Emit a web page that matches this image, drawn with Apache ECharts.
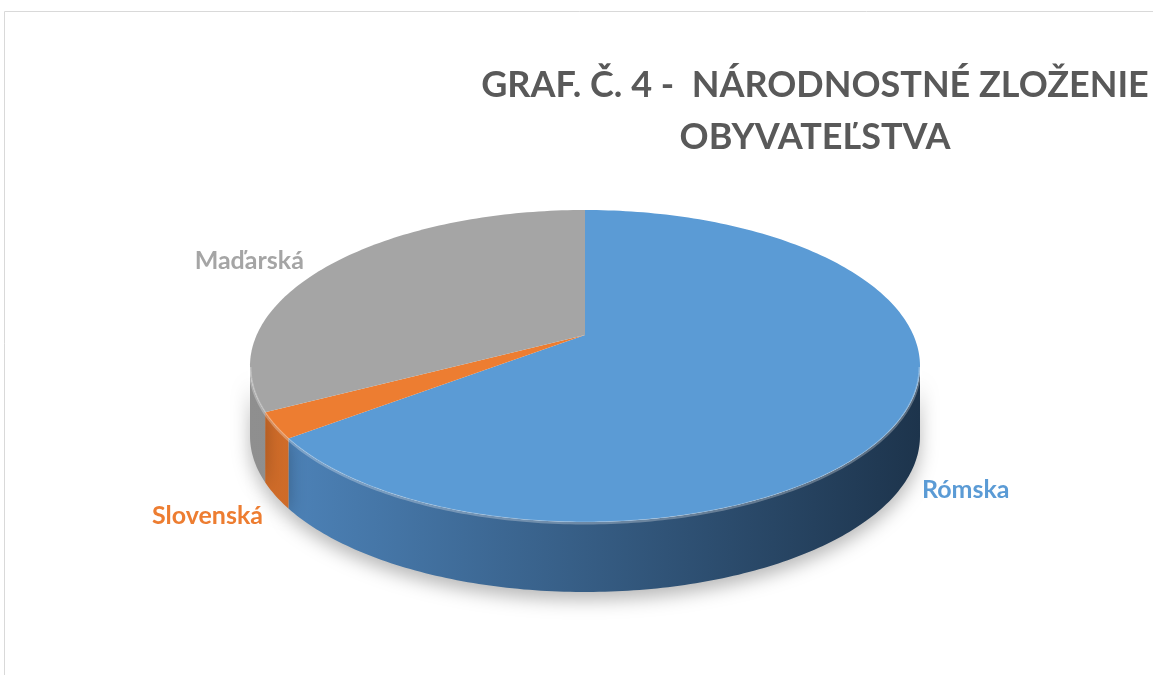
<!DOCTYPE html>
<html>
<head>
<meta charset="utf-8">
<script src="https://cdn.jsdelivr.net/npm/echarts@6/dist/echarts.min.js"></script>
<style>
html,body{margin:0;padding:0;background:#fff;}
#chart{width:1153px;height:675px;}
</style>
</head>
<body>
<div id="chart"></div>
<script>
// ---- data ----
const CATEGORIES = ['Rómska', 'Slovenská', 'Maďarská'];
const VALUES = [67.3, 2.9, 29.8];
const TITLE_LINES = ['GRAF. Č. 4 -  NÁRODNOSTNÉ ZLOŽENIE', 'OBYVATEĽSTVA'];

// ---- style ----
const TOP_COLORS = ['#5B9BD5', '#ED7D31', '#A5A5A5'];
const SIDE_COLORS = [['#4f86bd', '#1d344c'], ['#d06c29', '#b35b22'], ['#8f8f8f', '#7a7a7a']];
const LABEL_SHIFT = [[94, 43], [-68, 90], [-66, -13]];
const GEOM = { cx: 585, cy: 366, rx: 335, ry: 156, apexDy: -31, depth: 70 };

const chart = echarts.init(document.getElementById('chart'));

function rim(t, dz) {
  return [GEOM.cx + GEOM.rx * Math.sin(t), GEOM.cy - GEOM.ry * Math.cos(t) + (dz || 0)];
}
function arcPts(a, b, dz) {
  const pts = [];
  const n = Math.max(2, Math.ceil(Math.abs(b - a) / (Math.PI / 180)));
  for (let k = 0; k <= n; k++) pts.push(rim(a + (b - a) * k / n, dz));
  return pts;
}
const total = VALUES.reduce((s, v) => s + v, 0);

function renderItem(params, api) {
  const i = params.dataIndex;
  let before = 0;
  for (let k = 0; k < i; k++) before += VALUES[k];
  const val = api.value(0);
  const a = before / total * Math.PI * 2;
  const b = (before + val) / total * Math.PI * 2;
  const children = [];
  // side wall (front half only)
  const s = Math.max(a, Math.PI / 2), e = Math.min(b, Math.PI * 1.5);
  if (e > s) {
    const pts = arcPts(s, e, 0).concat(arcPts(e, s, GEOM.depth));
    children.push({
      type: 'polygon', shape: { points: pts }, z2: 1,
      style: {
        fill: new echarts.graphic.LinearGradient(GEOM.cx - GEOM.rx, 0, GEOM.cx + GEOM.rx, 0,
          [{ offset: 0, color: SIDE_COLORS[i][0] }, { offset: 1, color: SIDE_COLORS[i][1] }], true),
        shadowBlur: 18, shadowColor: 'rgba(0,0,0,0.28)', shadowOffsetY: 8
      }
    });
    // bevel highlight along front rim
    children.push({
      type: 'polyline', shape: { points: arcPts(s, e, 1) }, z2: 3,
      style: { stroke: 'rgba(255,255,255,0.28)', lineWidth: 3, fill: null }
    });
  }
  // top face
  const apex = [GEOM.cx, GEOM.cy + GEOM.apexDy];
  const topPts = [apex].concat(arcPts(a, b, 0));
  children.push({ type: 'polygon', shape: { points: topPts }, z2: 2, style: { fill: TOP_COLORS[i] } });
  // label
  const mid = (a + b) / 2;
  const anc = rim(mid, 0);
  children.push({
    type: 'text', z2: 5,
    style: {
      text: CATEGORIES[i], x: anc[0] + LABEL_SHIFT[i][0], y: anc[1] + LABEL_SHIFT[i][1],
      align: 'center', verticalAlign: 'middle', fill: TOP_COLORS[i],
      font: 'bold 25px Lato'
    }
  });
  return { type: 'group', children: children };
}

chart.setOption({
  animation: false,
  title: {
    text: TITLE_LINES.join('\n'), left: 810, top: 54, textAlign: 'center',
    textStyle: { fontFamily: 'Lato', fontWeight: 'bold', fontSize: 36, color: '#595959', lineHeight: 52 }
  },
  graphic: [{
    type: 'rect', shape: { x: 4.5, y: 11.5, width: 1200, height: 700 }, silent: true, z: -10,
    style: { fill: null, stroke: '#d9d9d9', lineWidth: 1 }
  }],
  series: [{
    type: 'custom', coordinateSystem: 'none', renderItem: renderItem,
    data: VALUES.map((v, i) => ({ value: [v], name: CATEGORIES[i] }))
  }]
});
</script>
</body>
</html>
